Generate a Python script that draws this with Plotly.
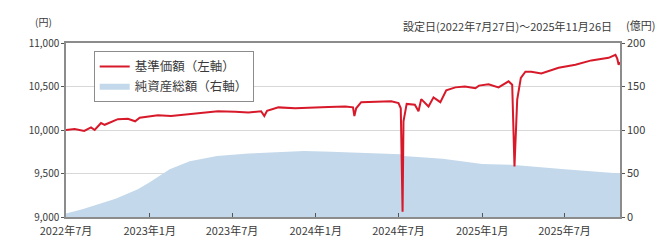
import plotly.graph_objects as go

nav_dates = [
    "2022-07-27", "2022-08-15", "2022-09-05", "2022-09-20", "2022-09-28", "2022-10-12",
    "2022-10-20", "2022-11-01", "2022-11-18", "2022-12-10", "2022-12-26", "2023-01-05",
    "2023-02-14", "2023-03-15", "2023-04-28", "2023-05-20", "2023-06-26", "2023-08-03",
    "2023-09-01", "2023-09-29", "2023-10-06", "2023-10-12", "2023-11-06", "2023-12-13",
    "2024-01-20", "2024-02-24", "2024-04-01", "2024-04-18", "2024-04-21", "2024-04-25",
    "2024-05-06", "2024-07-11", "2024-07-27", "2024-08-01", "2024-08-05", "2024-08-07",
    "2024-08-14", "2024-09-01", "2024-09-09", "2024-09-15", "2024-10-01", "2024-10-12",
    "2024-10-27", "2024-11-09", "2024-11-29", "2024-12-20", "2025-01-12", "2025-01-20",
    "2025-02-10", "2025-03-04", "2025-03-26", "2025-04-03", "2025-04-08", "2025-04-14",
    "2025-04-22", "2025-05-02", "2025-05-15", "2025-06-06", "2025-07-14", "2025-08-20",
    "2025-09-24", "2025-11-01", "2025-11-16", "2025-11-20", "2025-11-23", "2025-11-26",
]
nav_values = [
    10000, 10010, 9990, 10030, 10000, 10080,
    10060, 10090, 10125, 10130, 10100, 10140,
    10170, 10160, 10180, 10190, 10215, 10210,
    10200, 10215, 10160, 10220, 10260, 10250,
    10260, 10265, 10270, 10260, 10160, 10250,
    10320, 10330, 10310, 10250, 9060, 10100,
    10300, 10290, 10215, 10355, 10270, 10375,
    10320, 10455, 10490, 10500, 10480, 10510,
    10525, 10490, 10560, 10520, 9580, 10350,
    10600, 10670, 10670, 10650, 10715, 10750,
    10800, 10830, 10865, 10820, 10750, 10780,
]

aum_dates = [
    "2022-07-27", "2022-09-01", "2022-11-13", "2023-01-01", "2023-01-27", "2023-03-12",
    "2023-04-25", "2023-06-24", "2023-09-01", "2024-01-01", "2024-03-01", "2024-07-31",
    "2024-08-06", "2024-11-01", "2025-01-27", "2025-04-01", "2025-07-27", "2025-11-26",
]
aum_values = [4, 9, 21, 32, 40, 55, 64, 70, 73, 76, 75, 72, 70, 67, 61, 60, 55, 50]

tick_dates = ["2022-07-27", "2023-01-27", "2023-07-27", "2024-01-27", "2024-07-27", "2025-01-27", "2025-07-27"]
tick_text = ["2022年7月", "2023年1月", "2023年7月", "2024年1月", "2024年7月", "2025年1月", "2025年7月"]

left_ticks = [9000, 9500, 10000, 10500, 11000]
left_text = ["9,000", "9,500", "10,000", "10,500", "11,000"]
right_ticks = [0, 50, 100, 150, 200]

FONT = "Noto Sans CJK JP"
TXT = "#3a3a3a"
AX = "#8c8c8c"

fig = go.Figure()
fig.add_trace(go.Scatter(
    x=aum_dates, y=aum_values, name="純資産総額（右軸）", mode="lines",
    line=dict(color="#c3d8ea", width=0), fill="tozeroy", fillcolor="#c3d8ea",
    yaxis="y", legendrank=2,
))
fig.add_trace(go.Scatter(
    x=nav_dates, y=nav_values, name="基準価額（左軸）", mode="lines",
    line=dict(color="#d7192a", width=2), yaxis="y2", legendrank=1,
))

fig.update_layout(
    width=666, height=242,
    margin=dict(l=58, r=54, t=35, b=30),
    paper_bgcolor="white", plot_bgcolor="white",
    font=dict(family=FONT, size=10, color=TXT),
    showlegend=True,
    legend=dict(
        x=0.05, y=0.955, xanchor="left", yanchor="top",
        bordercolor="#8c8c8c", borderwidth=1, bgcolor="white",
        font=dict(size=12.5, color=TXT), tracegroupgap=0,
        itemwidth=30,
    ),
    xaxis=dict(
        type="date", range=["2022-07-27", "2025-11-26"],
        tickvals=tick_dates, ticktext=tick_text,
        ticks="inside", ticklen=4, tickcolor="#555",
        showgrid=False, showline=True, linecolor=AX, linewidth=1.5, mirror=True,
        tickfont=dict(size=11, color=TXT), zeroline=False,
        ticklabelstandoff=3,
    ),
    yaxis=dict(
        side="right", range=[0, 200], tickvals=right_ticks,
        showgrid=True, gridcolor="#d8d8d8", gridwidth=1,
        showline=True, linecolor=AX, linewidth=1.5,
        ticks="outside", ticklen=3, tickcolor="#555",
        tickfont=dict(size=11, color=TXT), zeroline=False,
    ),
    yaxis2=dict(
        side="left", overlaying="y", range=[9000, 11000],
        tickvals=left_ticks, ticktext=left_text,
        showgrid=False, showline=True, linecolor=AX, linewidth=1.5,
        ticks="outside", ticklen=3, tickcolor="#555",
        tickfont=dict(size=10, color=TXT), zeroline=False,
    ),
    annotations=[
        dict(text="(円)", x=0.0, xref="paper", xanchor="right", xshift=-12,
             y=1.0, yref="paper", yanchor="bottom", yshift=12, showarrow=False,
             font=dict(size=10, color=TXT)),
        dict(text="(億円)", x=1.0, xref="paper", xanchor="left", xshift=4,
             y=1.0, yref="paper", yanchor="bottom", yshift=8, showarrow=False,
             font=dict(size=11, color=TXT)),
        dict(text="設定日(2022年7月27日)～2025年11月26日", x=1.0, xref="paper", xanchor="right", xshift=-6,
             y=1.0, yref="paper", yanchor="bottom", yshift=7, showarrow=False,
             font=dict(size=11, color=TXT)),
    ],
)

fig.write_html("out.html")
